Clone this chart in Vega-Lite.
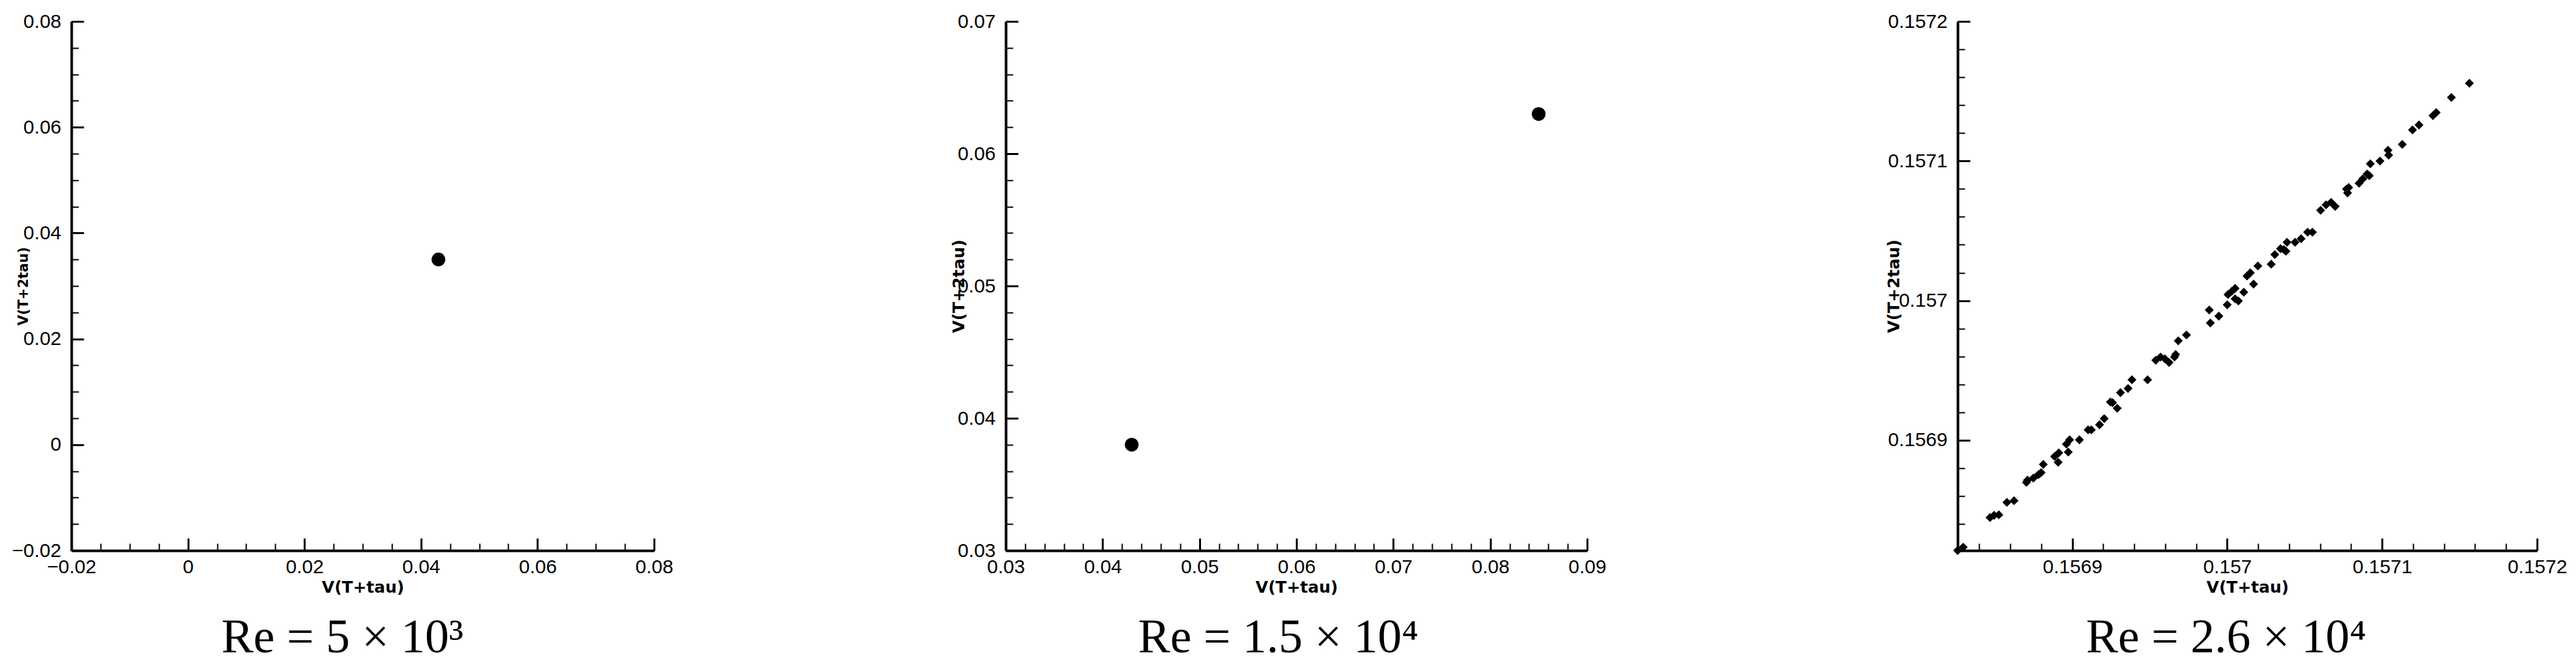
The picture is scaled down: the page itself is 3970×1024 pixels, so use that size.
{
  "$schema": "https://vega.github.io/schema/vega-lite/v6.json",
  "background": "white",
  "padding": {"left": 18, "top": 18, "right": 0, "bottom": 0},
  "config": {
    "view": {"stroke": null},
    "axis": {"grid": false, "domainColor": "black", "tickColor": "black", "labelColor": "black", "titleColor": "black", "labelFont": "Liberation Sans", "labelFontSize": 30, "titleFont": "DejaVu Sans", "titleFontWeight": "bold", "titleFontSize": 25, "labelOverlap": false, "labelFlush": false}
  },
  "datasets": {
    "p1": [{"x": 0.043, "y": 0.035}],
    "p2": [{"x": 0.043, "y": 0.038}, {"x": 0.085, "y": 0.063}],
    "p3": [
      {"x": 0.156826, "y": 0.156821},
      {"x": 0.1568296, "y": 0.1568234},
      {"x": 0.1568469, "y": 0.1568446},
      {"x": 0.1568495, "y": 0.1568462},
      {"x": 0.1568526, "y": 0.1568466},
      {"x": 0.1568578, "y": 0.1568555},
      {"x": 0.1568624, "y": 0.1568567},
      {"x": 0.1568704, "y": 0.1568698},
      {"x": 0.1568711, "y": 0.1568714},
      {"x": 0.1568749, "y": 0.1568729},
      {"x": 0.1568781, "y": 0.1568753},
      {"x": 0.1568799, "y": 0.1568768},
      {"x": 0.1568813, "y": 0.1568827},
      {"x": 0.1568886, "y": 0.1568884},
      {"x": 0.1568913, "y": 0.156891},
      {"x": 0.1568909, "y": 0.1568842},
      {"x": 0.1568962, "y": 0.1568972},
      {"x": 0.1568983, "y": 0.1569003},
      {"x": 0.1568974, "y": 0.1568915},
      {"x": 0.1569046, "y": 0.1569003},
      {"x": 0.1569102, "y": 0.1569074},
      {"x": 0.1569123, "y": 0.1569074},
      {"x": 0.1569176, "y": 0.1569111},
      {"x": 0.1569206, "y": 0.1569155},
      {"x": 0.1569246, "y": 0.1569274},
      {"x": 0.156926, "y": 0.1569269},
      {"x": 0.156929, "y": 0.1569229},
      {"x": 0.1569311, "y": 0.1569341},
      {"x": 0.156936, "y": 0.1569371},
      {"x": 0.1569385, "y": 0.1569433},
      {"x": 0.1569486, "y": 0.1569433},
      {"x": 0.1569539, "y": 0.1569573},
      {"x": 0.156957, "y": 0.1569596},
      {"x": 0.1569598, "y": 0.1569583},
      {"x": 0.1569625, "y": 0.1569557},
      {"x": 0.156966, "y": 0.1569596},
      {"x": 0.1569667, "y": 0.1569614},
      {"x": 0.1569684, "y": 0.1569712},
      {"x": 0.1569737, "y": 0.1569754},
      {"x": 0.1569884, "y": 0.1569933},
      {"x": 0.1569891, "y": 0.156984},
      {"x": 0.1569946, "y": 0.1569889},
      {"x": 0.157, "y": 0.156997},
      {"x": 0.1570005, "y": 0.1570044},
      {"x": 0.157003, "y": 0.1570067},
      {"x": 0.1570051, "y": 0.1570088},
      {"x": 0.1570051, "y": 0.1570013},
      {"x": 0.1570072, "y": 0.1569998},
      {"x": 0.1570107, "y": 0.157006},
      {"x": 0.1570128, "y": 0.1570176},
      {"x": 0.1570149, "y": 0.1570199},
      {"x": 0.157017, "y": 0.1570118},
      {"x": 0.1570198, "y": 0.1570248},
      {"x": 0.1570284, "y": 0.1570261},
      {"x": 0.1570307, "y": 0.157033},
      {"x": 0.1570344, "y": 0.1570372},
      {"x": 0.1570365, "y": 0.1570366},
      {"x": 0.1570379, "y": 0.1570354},
      {"x": 0.1570386, "y": 0.1570418},
      {"x": 0.1570438, "y": 0.1570418},
      {"x": 0.1570477, "y": 0.1570443},
      {"x": 0.1570519, "y": 0.157049},
      {"x": 0.157055, "y": 0.157049},
      {"x": 0.1570603, "y": 0.1570647},
      {"x": 0.1570638, "y": 0.1570686},
      {"x": 0.1570671, "y": 0.1570704},
      {"x": 0.1570697, "y": 0.1570675},
      {"x": 0.157077, "y": 0.1570799},
      {"x": 0.1570784, "y": 0.157081},
      {"x": 0.1570777, "y": 0.1570771},
      {"x": 0.1570851, "y": 0.1570841},
      {"x": 0.1570875, "y": 0.1570872},
      {"x": 0.1570903, "y": 0.1570907},
      {"x": 0.1570917, "y": 0.1570895},
      {"x": 0.1570924, "y": 0.157098},
      {"x": 0.1570986, "y": 0.1571},
      {"x": 0.1571038, "y": 0.1571077},
      {"x": 0.1571042, "y": 0.1571042},
      {"x": 0.157113, "y": 0.1571119},
      {"x": 0.1571196, "y": 0.1571223},
      {"x": 0.1571238, "y": 0.1571258},
      {"x": 0.1571328, "y": 0.1571325},
      {"x": 0.1571349, "y": 0.1571347},
      {"x": 0.1571447, "y": 0.1571455},
      {"x": 0.1571563, "y": 0.1571557}
    ]
  },
  "bounds": "flush",
  "spacing": 542,
  "hconcat": [
    {
      "width": 898,
      "height": 816,
      "data": {"name": "p1"},
      "title": {"text": "Re = 5 × 10³", "orient": "bottom", "frame": "bounds", "anchor": "middle", "font": "Liberation Serif", "fontSize": 74, "fontWeight": "normal", "color": "black", "offset": 30},
      "layer": [
        {
          "mark": {"type": "point", "opacity": 0},
          "encoding": {
            "x": {"field": "x", "type": "quantitative", "scale": {"domain": [-0.02, 0.08], "nice": false, "zero": false},
              "axis": {"orient": "bottom", "values": [-0.02, -0.015, -0.01, -0.005, 0, 0.005, 0.01, 0.015, 0.02, 0.025, 0.03, 0.035, 0.04, 0.045, 0.05, 0.055, 0.06, 0.065, 0.07, 0.075, 0.08], "labels": false, "title": null, "domain": false, "tickSize": -11, "tickWidth": 2}},
            "y": {"field": "y", "type": "quantitative", "scale": {"domain": [-0.02, 0.08], "nice": false, "zero": false},
              "axis": {"orient": "left", "values": [-0.02, -0.015, -0.01, -0.005, 0, 0.005, 0.01, 0.015, 0.02, 0.025, 0.03, 0.035, 0.04, 0.045, 0.05, 0.055, 0.06, 0.065, 0.07, 0.075, 0.08], "labels": false, "title": null, "domain": false, "tickSize": -11, "tickWidth": 2}}
          }
        },
        {
          "mark": {"type": "circle", "size": 450, "color": "black", "opacity": 1},
          "encoding": {
            "x": {"field": "x", "type": "quantitative",
              "axis": {"orient": "bottom", "values": [-0.02, 0, 0.02, 0.04, 0.06, 0.08], "format": "~g", "tickSize": -19, "tickWidth": 3, "domainWidth": 4, "labelPadding": 29, "title": "V(T+tau)", "titlePadding": 4}},
            "y": {"field": "y", "type": "quantitative",
              "axis": {"orient": "left", "values": [-0.02, 0, 0.02, 0.04, 0.06, 0.08], "format": "~g", "tickSize": -19, "tickWidth": 3, "domainWidth": 4, "labelPadding": 35, "title": "V(T+2tau)", "titleFontSize": 21, "titleX": -64, "titleBaseline": "bottom"}}
          }
        }
      ],
      "resolve": {"axis": {"x": "independent", "y": "independent"}}
    },
    {
      "bounds": "flush",
      "spacing": 571,
      "hconcat": [
        {
          "width": 896,
          "height": 816,
          "data": {"name": "p2"},
          "title": {"text": "Re = 1.5 × 10⁴", "orient": "bottom", "frame": "bounds", "anchor": "middle", "font": "Liberation Serif", "fontSize": 74, "fontWeight": "normal", "color": "black", "offset": 30},
          "layer": [
            {
              "mark": {"type": "point", "opacity": 0},
              "encoding": {
                "x": {"field": "x", "type": "quantitative", "scale": {"domain": [0.03, 0.09], "nice": false, "zero": false},
                  "axis": {"orient": "bottom", "values": [0.03, 0.032, 0.034, 0.036, 0.038, 0.04, 0.042, 0.044, 0.046, 0.048, 0.05, 0.052, 0.054, 0.056, 0.058, 0.06, 0.062, 0.064, 0.066, 0.068, 0.07, 0.072, 0.074, 0.076, 0.078, 0.08, 0.082, 0.084, 0.086, 0.088, 0.09], "labels": false, "title": null, "domain": false, "tickSize": -11, "tickWidth": 2}},
                "y": {"field": "y", "type": "quantitative", "scale": {"domain": [0.03, 0.07], "nice": false, "zero": false},
                  "axis": {"orient": "left", "values": [0.03, 0.032, 0.034, 0.036, 0.038, 0.04, 0.042, 0.044, 0.046, 0.048, 0.05, 0.052, 0.054, 0.056, 0.058, 0.06, 0.062, 0.064, 0.066, 0.068, 0.07], "labels": false, "title": null, "domain": false, "tickSize": -11, "tickWidth": 2}}
              }
            },
            {
              "mark": {"type": "circle", "size": 450, "color": "black", "opacity": 1},
              "encoding": {
                "x": {"field": "x", "type": "quantitative",
                  "axis": {"orient": "bottom", "values": [0.03, 0.04, 0.05, 0.06, 0.07, 0.08, 0.09], "format": "~g", "tickSize": -19, "tickWidth": 3, "domainWidth": 4, "labelPadding": 29, "title": "V(T+tau)", "titlePadding": 4}},
                "y": {"field": "y", "type": "quantitative",
                  "axis": {"orient": "left", "values": [0.03, 0.04, 0.05, 0.06, 0.07], "format": "~g", "tickSize": -19, "tickWidth": 3, "domainWidth": 4, "labelPadding": 35, "title": "V(T+2tau)", "titleX": -60, "titleBaseline": "bottom"}}
              }
            }
          ],
          "resolve": {"axis": {"x": "independent", "y": "independent"}}
        },
        {
          "width": 893,
          "height": 816,
          "data": {"name": "p3"},
          "title": {"text": "Re = 2.6 × 10⁴", "orient": "bottom", "frame": "bounds", "anchor": "middle", "font": "Liberation Serif", "fontSize": 74, "fontWeight": "normal", "color": "black", "offset": 30},
          "layer": [
            {
              "mark": {"type": "point", "opacity": 0},
              "encoding": {
                "x": {"field": "x", "type": "quantitative", "scale": {"domain": [0.156826, 0.1572], "nice": false, "zero": false},
                  "axis": {"orient": "bottom", "values": [0.15684, 0.15686, 0.15688, 0.1569, 0.15692, 0.15694, 0.15696, 0.15698, 0.157, 0.15702, 0.15704, 0.15706, 0.15708, 0.1571, 0.15712, 0.15714, 0.15716, 0.15718, 0.1572], "labels": false, "title": null, "domain": false, "tickSize": -11, "tickWidth": 2}},
                "y": {"field": "y", "type": "quantitative", "scale": {"domain": [0.156821, 0.1572], "nice": false, "zero": false},
                  "axis": {"orient": "left", "values": [0.15684, 0.15686, 0.15688, 0.1569, 0.15692, 0.15694, 0.15696, 0.15698, 0.157, 0.15702, 0.15704, 0.15706, 0.15708, 0.1571, 0.15712, 0.15714, 0.15716, 0.15718, 0.1572], "labels": false, "title": null, "domain": false, "tickSize": -11, "tickWidth": 2}}
              }
            },
            {
              "mark": {"type": "point", "shape": "diamond", "size": 190, "filled": true, "color": "black", "opacity": 1},
              "encoding": {
                "x": {"field": "x", "type": "quantitative",
                  "axis": {"orient": "bottom", "values": [0.1569, 0.157, 0.1571, 0.1572], "format": "~g", "tickSize": -19, "tickWidth": 3, "domainWidth": 4, "labelPadding": 29, "title": "V(T+tau)", "titlePadding": 4}},
                "y": {"field": "y", "type": "quantitative",
                  "axis": {"orient": "left", "values": [0.1569, 0.157, 0.1571, 0.1572], "format": "~g", "tickSize": -19, "tickWidth": 3, "domainWidth": 4, "labelPadding": 35, "title": "V(T+2tau)", "titleX": -86, "titleBaseline": "bottom"}}
              }
            }
          ],
          "resolve": {"axis": {"x": "independent", "y": "independent"}}
        }
      ]
    }
  ]
}
